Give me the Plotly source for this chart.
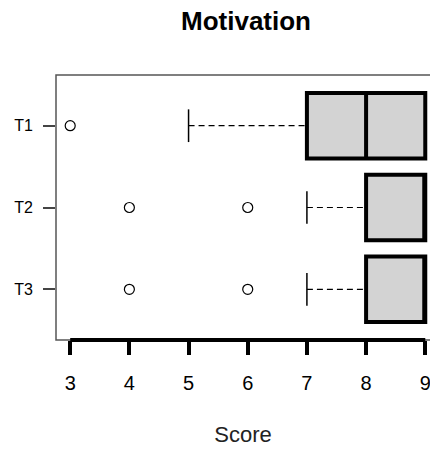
import plotly.graph_objects as go

groups = ["T1", "T2", "T3"]
positions = [1, 2, 3]
q1 = [7, 8, 8]
median = [8, 9, 9]
q3 = [9, 9, 9]
whisker_low = [5, 7, 7]
whisker_high = [9, 9, 9]
outliers = {"T1": [3], "T2": [4, 6], "T3": [4, 6]}
x_ticks = [3, 4, 5, 6, 7, 8, 9]

W, H = 430, 450

fig = go.Figure()

# whiskers (dashed) and caps
for g, p, lo, a, b, hi in zip(groups, positions, whisker_low, q1, q3, whisker_high):
    if lo < a:
        fig.add_trace(go.Scatter(x=[lo, a], y=[p, p], mode="lines",
                                 line=dict(color="black", width=1.2, dash="6px,4px"),
                                 showlegend=False, hoverinfo="skip"))
        fig.add_trace(go.Scatter(x=[lo, lo], y=[p - 0.2, p + 0.2], mode="lines",
                                 line=dict(color="black", width=1.5),
                                 showlegend=False, hoverinfo="skip"))
    if hi > b:
        fig.add_trace(go.Scatter(x=[b, hi], y=[p, p], mode="lines",
                                 line=dict(color="black", width=1.2, dash="6px,4px"),
                                 showlegend=False, hoverinfo="skip"))
        fig.add_trace(go.Scatter(x=[hi, hi], y=[p - 0.2, p + 0.2], mode="lines",
                                 line=dict(color="black", width=1.5),
                                 showlegend=False, hoverinfo="skip"))

# boxes
fig.add_trace(go.Box(
    y=positions, q1=q1, median=median, q3=q3,
    lowerfence=q1, upperfence=q3,
    orientation="h", width=0.8,
    fillcolor="#d3d3d3", line=dict(color="black", width=4),
    whiskerwidth=0, boxpoints=False, showlegend=False, hoverinfo="skip",
))

# outliers
ox, oy = [], []
for g, p in zip(groups, positions):
    for v in outliers[g]:
        ox.append(v)
        oy.append(p)
fig.add_trace(go.Scatter(x=ox, y=oy, mode="markers",
                         marker=dict(symbol="circle-open", size=10, color="black",
                                     line=dict(width=1.2)),
                         showlegend=False, hoverinfo="skip"))

# frame (right edge falls outside the visible page)
fig.add_shape(type="rect", xref="paper", yref="paper", x0=0, x1=1.2, y0=0, y1=1,
              line=dict(color="#555555", width=1.5), layer="above")
# thick x axis line from first to last tick
fig.add_shape(type="line", xref="x", yref="paper", x0=x_ticks[0], x1=x_ticks[-1],
              y0=0, y1=0, line=dict(color="black", width=4), layer="above")

fig.update_layout(
    width=W, height=H,
    margin=dict(l=56, r=0, t=75, b=110, autoexpand=False),
    paper_bgcolor="white", plot_bgcolor="white",
    boxmode="overlay",
    title=dict(text="<b>Motivation</b>", x=246 / W, xanchor="center", xref="container",
               y=1 - 21 / H, yanchor="middle", yref="container",
               font=dict(family="Liberation Sans, Arial", size=26, color="black")),
    font=dict(family="Liberation Sans, Arial", color="black"),
)
fig.update_xaxes(range=[2.76, 9.08], tickvals=x_ticks, ticktext=[str(t) for t in x_ticks],
                 ticks="outside", ticklen=14, tickwidth=4, tickcolor="black",
                 showgrid=False, zeroline=False, showline=False, automargin=False,
                 ticklabeloverflow="allow", ticklabelstandoff=11,
                 tickfont=dict(size=20, color="black"),
                 title=dict(text="Score", font=dict(size=22, color="#222222"), standoff=33))
fig.update_yaxes(range=[3.62, 0.38], tickvals=positions, ticktext=groups,
                 ticks="outside", ticklen=12, tickwidth=1.5, tickcolor="#444444",
                 showgrid=False, zeroline=False, showline=False, automargin=False,
                 ticklabelstandoff=7,
                 tickfont=dict(size=16, color="black"))

fig.write_html("out.html", config={"displayModeBar": False},
               post_script="document.body.style.margin='0';")
